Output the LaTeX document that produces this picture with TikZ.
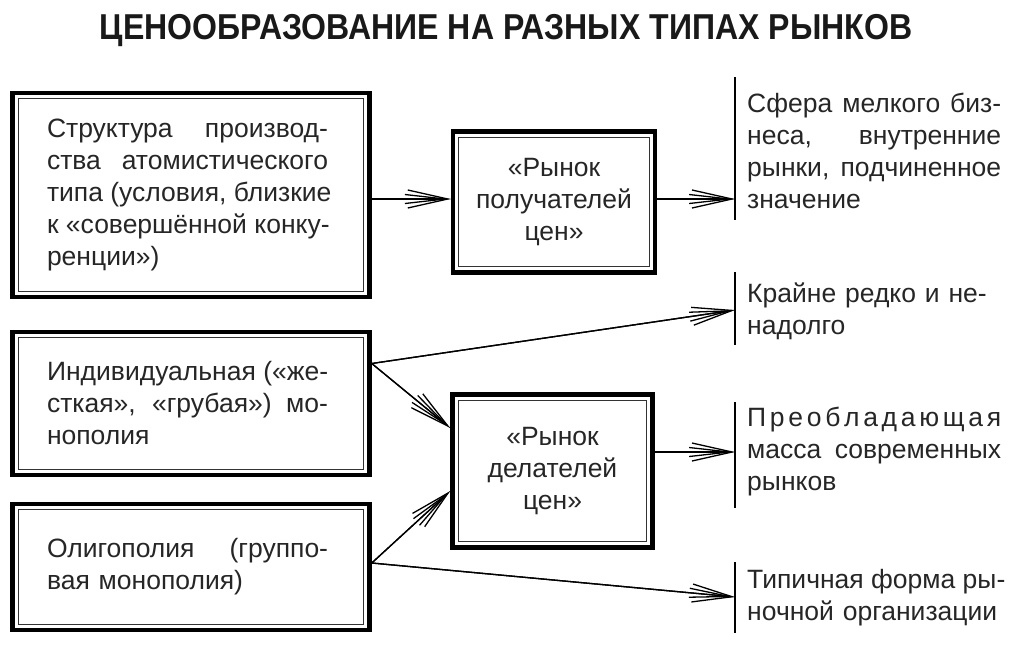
\documentclass[tikz,border=0pt]{standalone}
\usepackage{graphicx}
\usepackage{fontspec}
\setmainfont{Liberation Sans}
\usetikzlibrary{arrows.meta}
\newcommand{\jl}[2][281pt]{\makebox[#1][s]{\spaceskip=.278em plus 1fil\relax #2}}

\begin{document}
\begin{tikzpicture}[x=1pt, y=-1pt,
  box/.style={draw, line width=4.5pt, text=black!85, font=\fontsize{26.5}{32}\selectfont},
  leftbox/.style={box, minimum width=357pt, text width=288pt, align=left},
  midbox/.style={box, minimum width=202pt, align=center},
  note/.style={anchor=west, inner sep=0pt, text width=254pt, align=left, text=black!85, font=\fontsize{26.5}{32}\selectfont},
  bar/.style={line width=2pt},
  arr/.style={line width=1.3pt, -{Straight Barb[length=40pt,width=18pt]}, postaction={draw, -{Straight Barb[length=40pt,width=9pt]}}}]
\useasboundingbox (0,0) rectangle (1024,654);

% Title
\node [font=\fontsize{36}{36}\selectfont\bfseries, text=black!90] (title) at (506,31)
	{\scalebox{0.89}[1]{ЦЕНООБРАЗОВАНИЕ НА РАЗНЫХ ТИПАХ РЫНКОВ}};

% Market structures
\node [leftbox, minimum height=204pt] (b1) at (191,195)
	{\jl{Структура производ-}\\ \jl{ства атомистического}\\ \jl{типа (условия, близкие}\\ \jl{к «совершённой конку-}\\ ренции»)};
\node [leftbox, minimum height=143pt] (b2) at (191,403.5)
	{\jl{Индивидуальная («же-}\\ \jl{сткая», «грубая») мо-}\\ нополия};
\node [leftbox, minimum height=126pt] (b3) at (191,567)
	{\jl{Олигополия (группо-}\\ вая монополия)};

% Markets
\node [midbox, minimum height=141pt] (m1) at (554,202) {«Рынок\\ получателей\\ цен»};
\node [midbox, minimum height=153pt, minimum width=200pt] (m2) at (552.5,471) {«Рынок\\ делателей\\ цен»};

% Inner frames
\foreach \n in {b1,b2,b3,m1,m2}
	\draw [line width=0.9pt, black!80] ([shift={(8pt,-8pt)}]\n.north west) rectangle ([shift={(-8pt,8pt)}]\n.south east);

% Results
\node [note] (r1) at (747,151)
	{\jl[254pt]{Сфера мелкого биз-}\\ \jl[254pt]{неса, внутренние}\\ \jl[254pt]{рынки, подчиненное}\\ значение};
\node [note] (r2) at (747,311) {Крайне редко и не-\\ надолго};
\node [note] (r3) at (747,452)
	{\jl[254pt]{П\hfil р\hfil е\hfil о\hfil б\hfil л\hfil а\hfil д\hfil а\hfil ю\hfil щ\hfil а\hfil я}\\ \jl[254pt]{масса современных}\\ рынков};
\node [note] (r4) at (747,598) {\jl[254pt]{Типичная форма ры-}\\ ночной организации};

% Bars
\coordinate (s1) at (735,199);
\coordinate (s2) at (735,310);
\coordinate (s3) at (735,452);
\coordinate (s4) at (735,597);
\foreach \top/\bot in {77/220, 272/345, 402/508, 562/633}
	\draw [bar] (735,\top) -- (735,\bot);

% Connections
\draw [arr] (b1.east |- s1) -- (m1.west |- s1);
\draw [arr] (m1.east |- s1) -- (s1);
\draw [arr] ([yshift=40pt]b2.east) -- (s2);
\draw [arr] ([yshift=40pt]b2.east) -- ([yshift=43pt]m2.west);
\draw [arr] ([yshift=4pt]b3.east) -- ([yshift=-20pt]m2.west);
\draw [arr] (m2.east |- s3) -- (s3);
\draw [arr] ([yshift=4pt]b3.east) -- (s4);
\end{tikzpicture}
\end{document}
